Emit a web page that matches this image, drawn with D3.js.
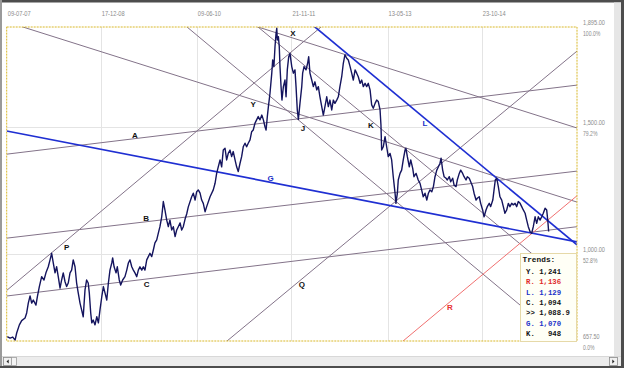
<!DOCTYPE html>
<html><head><meta charset="utf-8">
<script src="https://cdn.jsdelivr.net/npm/d3@7"></script>
<style>html,body{margin:0;padding:0;background:#fff;overflow:hidden}svg{display:block}</style>
</head><body><svg id="c" width="624" height="368"></svg>
<script>
// ---------- data ----------
const startDate = "09-07-07";
const endDate = "09-04-16";
const dateLabels = ["09-07-07","17-12-08","09-06-10","21-11-11","13-05-13","23-10-14"];
const priceTicks = [1895, 1500, 1000, 657.5];
const pctLabels = ["100.0%","79.2%","52.8%","0.0%"];

// [days since start, price]
const priceSeries = [[3,675],[19,669],[34,673],[47,661],[56,689],[71,721],[84,738],[103,748],[112,768],[121,807],[131,835],[140,807],[149,819],[164,799],[172,832],[183,872],[196,911],[209,898],[220,926],[233,950],[243,977],[252,1003],[261,965],[271,926],[280,950],[289,911],[299,866],[308,898],[317,926],[327,891],[336,872],[345,886],[355,926],[364,937],[373,977],[383,950],[392,886],[401,847],[411,807],[420,780],[429,753],[439,859],[448,898],[457,886],[463,847],[471,768],[477,729],[485,740],[495,721],[505,753],[514,729],[523,780],[533,832],[542,872],[551,847],[561,819],[570,886],[579,937],[589,965],[594,985],[602,950],[613,926],[620,950],[631,898],[639,878],[650,898],[663,911],[673,937],[682,965],[691,977],[701,950],[710,937],[719,926],[729,911],[738,937],[747,950],[757,937],[766,950],[775,937],[785,977],[794,990],[803,1003],[813,990],[822,1016],[831,1044],[841,1056],[850,1083],[859,1108],[869,1147],[878,1207],[887,1174],[897,1134],[906,1108],[915,1134],[925,1095],[934,1108],[944,1069],[953,1095],[962,1108],[972,1123],[981,1095],[990,1108],[1000,1138],[1009,1158],[1018,1186],[1037,1226],[1046,1240],[1056,1213],[1065,1246],[1074,1253],[1084,1240],[1093,1213],[1102,1200],[1112,1167],[1121,1187],[1140,1226],[1158,1253],[1168,1279],[1177,1318],[1186,1344],[1196,1371],[1205,1344],[1214,1410],[1224,1417],[1233,1371],[1242,1397],[1252,1410],[1261,1384],[1270,1404],[1280,1371],[1289,1344],[1298,1325],[1308,1358],[1317,1384],[1326,1423],[1336,1437],[1345,1423],[1354,1437],[1364,1450],[1373,1482],[1382,1489],[1392,1516],[1401,1529],[1410,1542],[1420,1529],[1430,1548],[1439,1529],[1448,1502],[1454,1489],[1461,1542],[1467,1581],[1476,1634],[1486,1713],[1491,1765],[1498,1739],[1504,1817],[1510,1870],[1514,1890],[1517,1844],[1523,1857],[1528,1817],[1532,1739],[1538,1660],[1543,1607],[1551,1660],[1560,1686],[1566,1620],[1573,1726],[1581,1778],[1588,1791],[1598,1739],[1607,1713],[1616,1726],[1622,1660],[1629,1568],[1635,1531],[1644,1594],[1654,1660],[1659,1713],[1667,1739],[1678,1726],[1687,1752],[1693,1778],[1700,1713],[1710,1686],[1719,1660],[1728,1679],[1738,1647],[1747,1660],[1756,1620],[1766,1581],[1775,1548],[1784,1581],[1794,1620],[1803,1581],[1812,1607],[1822,1568],[1831,1607],[1840,1594],[1850,1607],[1859,1620],[1868,1660],[1878,1699],[1887,1752],[1896,1785],[1906,1772],[1915,1765],[1925,1739],[1934,1713],[1943,1686],[1953,1726],[1962,1713],[1971,1699],[1981,1673],[1990,1686],[1999,1660],[2009,1673],[2018,1660],[2027,1673],[2037,1647],[2046,1588],[2055,1575],[2065,1594],[2074,1607],[2083,1601],[2093,1568],[2098,1509],[2102,1410],[2111,1423],[2121,1463],[2130,1423],[2139,1384],[2149,1397],[2158,1371],[2167,1305],[2177,1240],[2182,1200],[2190,1240],[2195,1292],[2205,1318],[2214,1331],[2223,1371],[2233,1410],[2238,1417],[2246,1384],[2257,1344],[2265,1371],[2276,1338],[2283,1305],[2295,1318],[2307,1292],[2317,1279],[2326,1253],[2335,1226],[2345,1240],[2355,1213],[2364,1240],[2373,1253],[2383,1246],[2392,1266],[2401,1305],[2411,1331],[2420,1344],[2429,1358],[2435,1378],[2444,1331],[2452,1305],[2463,1299],[2470,1292],[2481,1305],[2489,1285],[2500,1299],[2508,1272],[2519,1266],[2526,1292],[2537,1318],[2545,1331],[2556,1318],[2564,1305],[2575,1292],[2582,1305],[2593,1299],[2601,1285],[2612,1266],[2620,1240],[2631,1213],[2638,1220],[2649,1226],[2657,1200],[2668,1174],[2676,1147],[2687,1174],[2694,1187],[2705,1200],[2713,1187],[2725,1213],[2732,1253],[2739,1292],[2747,1299],[2756,1266],[2765,1226],[2775,1213],[2784,1187],[2793,1161],[2803,1174],[2812,1200],[2821,1187],[2831,1200],[2840,1194],[2850,1200],[2859,1187],[2868,1207],[2878,1200],[2887,1187],[2896,1174],[2906,1161],[2915,1134],[2924,1108],[2934,1088],[2943,1082],[2952,1108],[2962,1147],[2971,1121],[2980,1147],[2990,1134],[2999,1147],[3008,1161],[3018,1181],[3027,1174],[3033,1134],[3038,1089]];

// trend lines: two anchor points each [day, price]
const trendIds    = ["Y","J","P","A","B","C","X","K","Q","R","G","L"];
const trendStart  = [[91,1895],[1011,1895],[2,858],[2,1394],[2,1063],[2,835],[1409,1895],[1409,1895],[1235,657.5],[2222,657.5],[2,1485],[1728,1895]];
const trendEnd    = [[3197,1205],[3119,657.5],[1762,1895],[3197,1666],[3197,1327],[3197,1108],[3197,1497],[2093,1497],[3197,1800],[3197,1230],[3197,1048],[3197,1036]];

// trend labels: letter + anchor [day, price]
const labelText = ["X","Y","J","K","L","A","G","B","P","C","Q","R"];
const labelAt   = [[1605,1871],[1381,1592],[1661,1497],[2042,1509],[2345,1515],[719,1469],[1480,1299],[781,1141],[336,1029],[785,882],[1654,882],[2485,790]];

const legendTitle = "Trends:";
const legendKeys = ["Y.","R.","L.","C.",">>","G.","K."];
const legendValues = ["1,241","1,136","1,129","1,094","1,088.9","1,070","948"];

// ---------- drawing ----------
const W = 624, H = 368;
const svg = d3.select("#c");
const parse = d3.utcParse("%d-%m-%y");
const t0 = parse(startDate), t1 = parse(endDate);
const dayDate = d => d3.utcDay.offset(t0, d);

const plot = {l: 6.7, r: 577, t: 27, b: 341};
const x = d3.scaleUtc().domain([t0, t1]).range([plot.l, plot.r]);
const y = d3.scaleLinear().domain([657.5, 1895]).range([plot.b, plot.t]);
const totalDays = d3.utcDay.count(t0, t1);

const blue = "#1f2fd2", red = "#f07070", gray = "#837389";
const colorOf = id => id === "G" || id === "L" ? blue : id === "R" ? red : null;

// window frame
svg.append("rect").attr("width", W).attr("height", H).attr("fill", "#ffffff");
svg.append("rect").attr("x", 0).attr("y", 0).attr("width", W).attr("height", 2.5).attr("fill", "#4d4d4d");
svg.append("rect").attr("x", 0).attr("y", 0).attr("width", 2).attr("height", H).attr("fill", "#9a9a9a");
svg.append("rect").attr("x", 614).attr("y", 2.5).attr("width", 7).attr("height", 354).attr("fill", "#e6e6e6");
svg.append("rect").attr("x", 621).attr("y", 0).attr("width", 3).attr("height", H).attr("fill", "#4d4d4d");
svg.append("rect").attr("x", 2).attr("y", 356).attr("width", 619).attr("height", 10).attr("fill", "#ececec");
svg.append("line").attr("x1", 2).attr("x2", 621).attr("y1", 356.5).attr("y2", 356.5).attr("stroke", "#d8d8d8");
svg.append("rect").attr("x", 0).attr("y", 366).attr("width", W).attr("height", 2).attr("fill", "#4d4d4d");
// scroll buttons
[[3, "l"], [609, "r"]].forEach(([bx, dir]) => {
  svg.append("rect").attr("x", bx + 0.5).attr("y", 357.5).attr("width", 8).attr("height", 8)
    .attr("fill", "#f0f0f0").attr("stroke", "#8a8a8a").attr("stroke-width", 0.8);
  const cx = bx + 4.5, cy = 361.5;
  const pts = dir === "l" ? [[cx + 1.2, cy - 2], [cx + 1.2, cy + 2], [cx - 1, cy]] : [[cx - 1.2, cy - 2], [cx - 1.2, cy + 2], [cx + 1, cy]];
  svg.append("path").attr("d", "M" + pts.join("L") + "Z").attr("fill", "#222");
});
svg.append("rect").attr("x", 11.5).attr("y", 357.5).attr("width", 5).attr("height", 8)
  .attr("fill", "#f4f4f4").attr("stroke", "#a0a0a0").attr("stroke-width", 0.8);

// gridlines
const gridDates = dateLabels.map(parse);
svg.append("g").selectAll("line").data(gridDates.slice(1)).join("line")
  .attr("x1", d => Math.round(x(d)) + 0.5).attr("x2", d => Math.round(x(d)) + 0.5)
  .attr("y1", plot.t).attr("y2", plot.b).attr("stroke", "#e4e4e4").attr("stroke-width", 1);
svg.append("g").selectAll("line").data(priceTicks.slice(1, -1)).join("line")
  .attr("x1", plot.l).attr("x2", plot.r)
  .attr("y1", d => Math.round(y(d)) + 0.5).attr("y2", d => Math.round(y(d)) + 0.5)
  .attr("stroke", "#e4e4e4").attr("stroke-width", 1);

// top date labels
svg.append("g").selectAll("text").data(dateLabels).join("text")
  .attr("x", d => x(parse(d)) + 1).attr("y", 15.5)
  .attr("font-family", "Liberation Sans, Arial, sans-serif").attr("font-size", 7.3)
  .attr("textLength", 23).attr("lengthAdjust", "spacingAndGlyphs")
  .attr("fill", "#8c8c8c").text(d => d);

// right labels
const fmt = d3.format(",.2f");
const rl = svg.append("g").attr("font-family", "Liberation Sans, Arial, sans-serif").attr("font-size", 7.3).attr("fill", "#8c8c8c");
priceTicks.forEach((p, i) => {
  const s = fmt(p);
  rl.append("text").attr("x", 583).attr("y", y(p) - 2).attr("textLength", s.length * 2.75)
    .attr("lengthAdjust", "spacingAndGlyphs").text(s);
  rl.append("text").attr("x", 583).attr("y", y(p) + 8.5).attr("textLength", pctLabels[i].length * 2.9)
    .attr("lengthAdjust", "spacingAndGlyphs").text(pctLabels[i]);
});

// clip
svg.append("clipPath").attr("id", "pc").append("rect")
  .attr("x", plot.l).attr("y", plot.t).attr("width", plot.r - plot.l).attr("height", plot.b - plot.t);
const gl = svg.append("g").attr("clip-path", "url(#pc)");

const trendLine = d3.line().x(d => x(dayDate(d[0]))).y(d => y(d[1]));
const trends = trendIds.map((id, i) => {
  const f = d3.scaleLinear().domain([trendStart[i][0], trendEnd[i][0]]).range([trendStart[i][1], trendEnd[i][1]]);
  return {id, pts: [[0, f(0)], [totalDays, f(totalDays)]]};
});
const order = t => (colorOf(t.id) === blue ? 2 : colorOf(t.id) === red ? 1 : 0);
trends.slice().sort((a, b) => order(a) - order(b)).forEach(t => {
  const c = colorOf(t.id);
  gl.append("path").attr("d", trendLine(t.pts)).attr("fill", "none")
    .attr("stroke", c || gray).attr("stroke-width", c === blue ? 1.7 : 1);
});

// price line
const priceLine = d3.line().x(d => x(dayDate(d[0]))).y(d => y(d[1]));
gl.append("path").datum(priceSeries).attr("d", priceLine).attr("fill", "none")
  .attr("stroke", "#14145e").attr("stroke-width", 1.4).attr("stroke-linejoin", "round");

// trend letters
svg.append("g").selectAll("text").data(labelText).join("text")
  .attr("x", (d, i) => x(dayDate(labelAt[i][0]))).attr("y", (d, i) => y(labelAt[i][1]) + 3)
  .attr("text-anchor", "middle").attr("font-family", "Liberation Sans, Arial, sans-serif")
  .attr("font-size", 8).attr("font-weight", "bold")
  .attr("fill", d => d === "R" ? "#e83030" : (d === "G" || d === "L") ? "#2030c8" : "#111")
  .text(d => d);

// plot border (dotted gold)
svg.append("rect").attr("x", plot.l).attr("y", plot.t).attr("width", plot.r - plot.l).attr("height", plot.b - plot.t)
  .attr("fill", "none").attr("stroke", "#d9b82a").attr("stroke-width", 1).attr("stroke-dasharray", "2,1");

// legend
const lg = svg.append("g");
lg.append("rect").attr("x", 520.5).attr("y", 253.5).attr("width", 56).attr("height", 88)
  .attr("fill", "#fffff6").attr("stroke", "#e6d9a8").attr("stroke-width", 1);
lg.append("text").attr("x", 522.5).attr("y", 261.5).attr("font-family", "Liberation Mono, Courier New, monospace")
  .attr("font-size", 7.8).attr("font-weight", "bold").attr("fill", "#111").text(legendTitle);
legendKeys.forEach((k, i) => {
  const v = legendValues[i];
  const s = k + " " + (v.length < 5 ? v.padStart(5, " ") : v);
  const c = colorOf(k[0]);
  lg.append("text").attr("x", 526).attr("y", 274 + i * 10.3)
    .attr("font-family", "Liberation Mono, Courier New, monospace").attr("font-size", 7.3)
    .attr("font-weight", "bold")
    .attr("xml:space", "preserve").style("white-space", "pre")
    .attr("fill", c === blue ? "#2030c8" : c === red ? "#e02828" : "#111").text(s);
});
</script></body></html>
